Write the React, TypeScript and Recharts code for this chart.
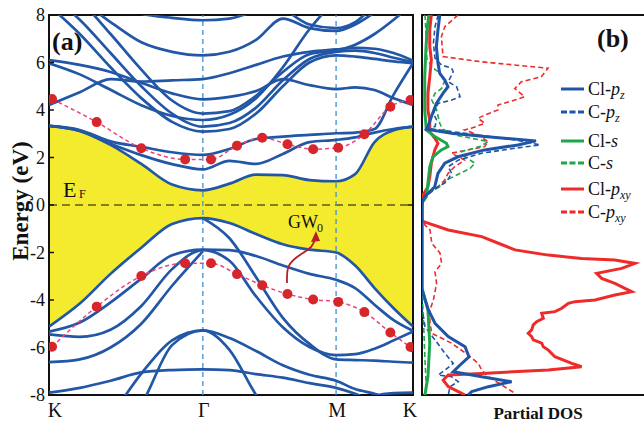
import React from 'react';
import { ComposedChart, Line, Area, XAxis, YAxis, ReferenceLine, ReferenceArea } from 'recharts';

const SERIF = '"Liberation Serif", "Times New Roman", "DejaVu Serif", serif';
const BAND = '#2256a6';
const YELLOW = '#f4eb2f';
const BLUE = '#1f55a6';
const GREEN = '#1fa64a';
const RED = '#ee2b2b';
const ARROW = '#b3202a';

// ---- k-path (K - Gamma - M - K) ----
const kPath = [0, 0.2, 0.4, 0.6, 0.8, 1.0, 1.173, 1.346, 1.52, 1.693, 1.866, 1.99, 2.116, 2.24, 2.366];
const kTicks = [0, 1, 1.866, 2.366];
const kLabels = ['K', 'Γ', 'M', 'K'];
const eTicks = [-8, -6, -4, -2, 0, 2, 4, 6, 8];

// ---- conduction bands (eV) ----
const cb1 = [3.33, 3.12, 2.53, 1.73, 0.86, 0.62, 0.9, 1.28, 1.26, 1.05, 1.0, 1.3, 2.65, 3.15, 3.3];
const cb2 = [3.33, 3.12, 2.58, 2.1, 1.72, 1.5, 1.86, 1.73, 2.15, 2.65, 2.74, 2.85, 3.05, 3.2, 3.3];
const cb3 = [3.33, 3.16, 2.68, 2.45, 2.22, 2.11, 2.36, 2.78, 2.88, 2.95, 3.02, 3.05, 3.2, 4.65, 5.97];
const cb4 = [8.4, 7.2, 5.8, 4.5, 3.5, 3.09, 3.2, 3.85, 5.0, 6.0, 6.3, 6.25, 6.15, 6.05, 5.97];
const cb5 = [8.9, 7.8, 6.4, 5.0, 3.85, 3.3, 3.45, 4.1, 5.25, 6.15, 6.45, 6.5, 6.4, 6.2, 6.02];
const cb6 = [5.97, 5.5, 4.85, 4.2, 3.75, 3.58, 3.8, 4.5, 5.8, 7.4, 8.6, 9.0, 9.3, 9.5, 9.6];
const cb7 = [6.1, 5.9, 5.6, 5.15, 4.7, 4.45, 4.55, 4.8, 5.3, 5.05, 4.88, 4.95, 4.84, 4.49, 4.21];
const cb8 = [4.21, 4.75, 5.3, 5.2, 5.25, 5.3, 5.55, 5.9, 6.25, 6.45, 6.55, 6.62, 6.58, 6.4, 6.08];
const cb9 = [9.0, 8.6, 7.7, 6.85, 6.45, 6.3, 6.45, 6.95, 7.85, 7.45, 7.33, 7.6, 8.1, 8.6, 9.0];
const cb10 = [9.5, 9.0, 8.5, 8.05, 7.88, 7.78, 7.85, 8.2, 8.7, 9.2, 9.5, 9.6, 9.6, 9.6, 9.6];
const cb11 = [9.4, 8.6, 7.2, 5.7, 4.4, 3.85, 3.95, 4.6, 5.6, 6.35, 6.5, 6.75, 7.2, 7.8, 8.5];
const cb12: (number | null)[] = [null, null, null, null, null, null, null, 9.0, 8.3, 7.6, 7.45, 7.7, 8.4, 9.0, 9.5];

// ---- valence bands (eV) ----
const vb1 = [-5.12, -4.15, -2.9, -1.8, -0.8, -0.55, -0.76, -1.22, -1.65, -1.88, -2.0, -2.55, -3.5, -4.35, -5.12];
const vb2 = [-5.33, -4.95, -4.1, -3.1, -2.12, -1.88, -1.9, -2.15, -2.55, -2.9, -3.15, -3.5, -4.2, -4.85, -5.3];
const vb3 = [-5.45, -5.55, -5.25, -4.25, -2.7, -1.9, -2.35, -3.85, -5.15, -5.98, -6.32, -6.28, -6.05, -5.7, -5.33];
const vb4: (number | null)[] = [null, null, null, null, null, -0.55, -1.4, -3.04, -4.75, -5.85, -6.5, -6.53, -6.55, -6.6, -6.64];
const vb5: (number | null)[] = [-6.62, -6.5, -6.0, -5.0, -3.4, -1.95, null, null, null, null, null, null, null, null, null];
const vb6 = [-10.5, -10.0, -8.85, -7.1, -5.7, -5.28, -5.6, -6.15, -6.75, -7.15, -7.4, -7.75, -7.95, -8.2, -8.4];
const vb7 = [-11.5, -11.0, -9.8, -8.4, -5.9, -5.28, -6.1, -8.0, -9.5, -10.0, -10.5, -10.5, -10.5, -10.5, -10.5];
const vb8 = [-7.9, -7.7, -7.4, -7.05, -6.95, -6.92, -6.95, -7.12, -7.27, -7.5, -7.7, -7.95, -8.3, -8.6, -8.7];
const vb9: (number | null)[] = [null, null, null, null, null, null, null, null, null, null, -9.0, -8.5, -8.05, -7.92, -7.9];

const bandList = [cb1, cb2, cb3, cb4, cb5, cb6, cb7, cb8, cb9, cb10, cb11, cb12, vb1, vb2, vb3, vb4, vb5, vb6, vb7, vb8, vb9];

// ---- GW0 band edges ----
const gwU = [0.02, 0.31, 0.6, 0.885, 1.053, 1.222, 1.386, 1.55, 1.717, 1.88, 2.05, 2.219, 2.35];
const gwCond = [4.46, 3.49, 2.39, 1.92, 1.92, 2.5, 2.83, 2.56, 2.35, 2.41, 2.98, 4.14, 4.42];
const gwVal = [-5.97, -4.28, -2.99, -2.45, -2.45, -2.91, -3.38, -3.75, -3.98, -4.08, -4.51, -5.37, -5.98];

// ---- annotation arrow (k, E) ----
const arrowU = [1.547, 1.554, 1.6, 1.66, 1.705, 1.729];
const arrowE = [-3.28, -2.65, -2.25, -1.98, -1.75, -1.47];

// ---- partial DOS: [energy, DOS] ----
const clPz: [number, number][] = [[8,0.78],[7.37,0.7],[6.67,0.63],[5.97,0.7],[5.54,0.78],[5.26,1.0],[4.98,1.14],[4.7,0.92],[4.28,0.63],[3.72,0.41],[3.3,0.26],[3.19,0.19],[3.02,1.29],[2.88,2.75],[2.7,5.0],[2.53,4.21],[2.32,2.75],[2.03,1.58],[1.76,1.0],[1.33,0.7],[0.77,0.56],[0.35,0.12],[0.21,0.04],[0,0],[-3.55,0],[-3.72,0.05],[-4.42,0.28],[-4.98,0.57],[-5.54,1.15],[-5.97,1.89],[-6.39,2.06],[-6.81,1.59],[-7.02,1.37],[-7.23,2.62],[-7.44,3.93],[-7.65,2.91],[-7.86,2.18],[-8,2.02]];
const cPz: [number, number][] = [[8,0.71],[7.51,0.57],[6.81,0.5],[6.18,0.57],[5.89,0.86],[5.76,1.3],[5.61,1.37],[5.19,1.15],[4.98,1.52],[4.56,1.67],[4.42,1.3],[4.28,0.71],[3.86,0.5],[3.58,0.64],[3.3,0.57],[3.23,0.21],[3.02,1.89],[2.74,4.08],[2.53,5.18],[2.39,4.08],[2.18,2.62],[1.89,1.59],[1.61,1.15],[1.33,1.3],[0.98,1.08],[0.77,0.71],[0.56,0.43],[0.35,0.13],[0.2,0],[-4.3,0],[-5.12,0.13],[-5.68,0.57],[-6.25,1.01],[-6.67,1.37],[-6.95,1.01],[-7.16,0.71],[-7.23,1.3],[-7.44,1.59],[-7.65,1.23],[-8,1.15]];
const clS: [number, number][] = [[8,0.3],[7.37,0.22],[6.53,0.17],[5.4,0.12],[4,0.12],[3.16,0.19],[2.88,0.56],[2.6,1.07],[2.46,1.14],[2.32,0.85],[2.03,0.48],[1.61,0.34],[0.91,0.26],[0.35,0.19],[0.21,0.09],[0.1,0],[-3.5,0],[-4.42,0.26],[-5.82,0.34],[-7.23,0.26],[-8,0.13]];
const cS: [number, number][] = [[8,0.13],[6.82,0.2],[6.18,0.21],[5.82,0.43],[5.61,0.71],[5.26,1.01],[4.91,0.86],[4.7,0.57],[4.42,0.43],[4.0,0.64],[3.44,0.78],[3.2,0.9],[2.95,1.43],[2.67,2.9],[2.46,2.54],[2.25,1.74],[2.03,1.89],[1.76,2.32],[1.54,2.11],[1.26,1.52],[1.05,1.08],[0.77,0.79],[0.56,0.35],[0.42,0.13],[0.3,0],[-3.5,0],[-5,0.07],[-6.5,0.13],[-7.5,0.18],[-8,0.13]];
const clPxy: [number, number][] = [[8,0.41],[7.37,0.34],[6.67,0.34],[6.11,0.41],[5.4,0.34],[4.7,0.26],[4,0.26],[3.58,0.34],[3.09,0.34],[2.81,0.56],[2.6,0.7],[2.32,0.56],[2.03,0.48],[1.76,0.41],[1.19,0.34],[0.77,0.26],[0.49,0.09],[0.35,0],[-0.6,0],[-0.7,0.06],[-1.05,1.15],[-1.33,2.62],[-1.61,3.35],[-1.89,4.08],[-2.11,5.54],[-2.25,7.0],[-2.32,8.46],[-2.46,9.34],[-2.67,8.76],[-2.88,7.66],[-3.09,7.88],[-3.3,8.46],[-3.51,8.9],[-3.65,9.2],[-3.79,8.46],[-4.0,7.59],[-4.07,6.71],[-4.14,6.42],[-4.35,6.13],[-4.49,5.83],[-4.56,5.25],[-4.77,5.32],[-4.91,5.03],[-5.05,4.88],[-5.26,4.81],[-5.4,4.66],[-5.54,4.81],[-5.68,4.88],[-5.82,5.25],[-5.97,5.32],[-6.11,5.54],[-6.39,5.83],[-6.67,6.57],[-6.81,7.0],[-6.95,5.54],[-7.09,2.62],[-7.16,1.15],[-7.37,0.93],[-7.65,1.15],[-7.86,1.59],[-8,1.89]];
const cPxy: [number, number][] = [[8,1.58],[7.51,1.0],[7.09,0.85],[6.25,0.92],[6.03,2.6],[5.76,5.53],[5.4,5.23],[5.19,4.36],[4.91,4.07],[4.56,4.5],[4.42,4.07],[4.21,3.33],[4.0,3.33],[3.79,2.75],[3.65,2.46],[3.44,2.75],[3.23,2.16],[3.16,1.87],[2.95,2.46],[2.67,2.89],[2.46,2.75],[2.18,1.29],[1.89,1.87],[1.61,1.43],[1.33,1.14],[1.05,1.0],[0.77,0.7],[0.49,0.26],[0.35,0.04],[0.25,0],[-0.6,0],[-0.84,0.13],[-1.05,0.35],[-1.61,0.43],[-2.03,0.79],[-2.46,0.86],[-2.81,0.57],[-3.3,0.64],[-4.0,0.5],[-4.42,0.35],[-4.98,0.35],[-5.4,0.43],[-5.82,1.3],[-6.32,2.03],[-6.67,2.47],[-6.95,2.62],[-7.23,2.91],[-7.58,3.5],[-7.93,4.08]];

const dosNames = ['Cl-', 'C-', 'Cl-', 'C-', 'Cl-', 'C-'];
const dosOrbitals = ['p', 'p', 's', 's', 'p', 'p'];
const dosSubs = ['z', 'z', '', '', 'xy', 'xy'];

// ---- derived tables ----
const bandRows = kPath.map((u, i) => {
  const row: Record<string, any> = { u, gap: [vb1[i], cb1[i]] };
  bandList.forEach((b, j) => {
    row['b' + j] = b[i];
  });
  return row;
});
const gwCondRows = gwU.map((u, i) => ({ u, e: gwCond[i] }));
const gwValRows = gwU.map((u, i) => ({ u, e: gwVal[i] }));
const arrowRows = arrowU.map((u, i) => ({ u, e: arrowE[i] }));
const toRows = (arr: [number, number][]) => arr.map(([e, d]) => ({ e, d }));

const dosSeries = [
  { data: cPxy, color: RED, dashed: true },
  { data: cS, color: GREEN, dashed: true },
  { data: cPz, color: BLUE, dashed: true },
  { data: clPxy, color: RED, dashed: false },
  { data: clS, color: GREEN, dashed: false },
  { data: clPz, color: BLUE, dashed: false },
];
const legendStyle = [
  { color: BLUE, dashed: false, y: 89 },
  { color: BLUE, dashed: true, y: 112 },
  { color: GREEN, dashed: false, y: 141 },
  { color: GREEN, dashed: true, y: 163 },
  { color: RED, dashed: false, y: 189 },
  { color: RED, dashed: true, y: 212 },
];

const XTick = (props: any) => {
  const { x, y, payload } = props;
  const idx = kTicks.indexOf(payload.value);
  const shift = idx === 0 ? 6 : idx === 3 ? -3 : 1;
  return (
    <text x={x + shift} y={y} dy="0.71em" textAnchor="middle" fontSize={20} fontFamily={SERIF} fill="#111">
      {kLabels[idx]}
    </text>
  );
};

const ArrowHead = (p: any) => {
  if (p.index !== arrowU.length - 1) return <g key={'ah' + p.index} />;
  const { cx, cy } = p;
  return (
    <polygon
      key={'ah' + p.index}
      points={`${cx + 1},${cy - 9} ${cx - 4},${cy + 2} ${cx + 5},${cy + 1}`}
      fill={ARROW}
    />
  );
};

export default function App() {
  return (
    <div style={{ position: 'absolute', left: 0, top: 0, width: 644, height: 424, overflow: 'hidden', background: '#fff' }}>
      <div style={{ position: 'absolute', left: 0, top: 0 }}>
        <ComposedChart width={420} height={424} data={bandRows} margin={{ top: 15, right: 7, bottom: 0, left: 0 }}>
          <XAxis
            dataKey="u"
            type="number"
            domain={[0, 2.366]}
            ticks={kTicks}
            allowDataOverflow
            axisLine={false}
            tickLine={false}
            tickSize={6}
            tickMargin={2}
            height={29}
            interval={0}
            tick={(p: any) => <XTick {...p} />}
          />
          <YAxis
            type="number"
            domain={[-8, 8]}
            ticks={eTicks}
            allowDataOverflow
            axisLine={false}
            tickLine={false}
            tickSize={4}
            tickMargin={0}
            width={49}
            interval={0}
            tick={{ fontSize: 18, fill: '#111', fontFamily: SERIF }}
          />
          <Area dataKey="gap" type="monotone" fill={YELLOW} fillOpacity={1} stroke="none" isAnimationActive={false} />
          <ReferenceLine y={0} stroke="#111" strokeDasharray="8 5" strokeWidth={1.2} />
          <ReferenceLine x={1} stroke="#3f8fd2" strokeDasharray="5 4" strokeWidth={1.3} />
          <ReferenceLine x={1.866} stroke="#3f8fd2" strokeDasharray="5 4" strokeWidth={1.3} />
          {bandList.map((b, j) => (
            <Line
              key={'band' + j}
              dataKey={'b' + j}
              type="monotone"
              stroke={BAND}
              strokeWidth={2.7}
              dot={false}
              activeDot={false}
              connectNulls={false}
              isAnimationActive={false}
            />
          ))}
          <Line
            data={gwCondRows}
            dataKey="e"
            type="monotone"
            stroke="#e9457e"
            strokeWidth={1.5}
            strokeDasharray="4 3"
            dot={{ r: 5, fill: '#d7262b', stroke: 'none', strokeWidth: 0, strokeDasharray: '' }}
            activeDot={false}
            isAnimationActive={false}
          />
          <Line
            data={gwValRows}
            dataKey="e"
            type="monotone"
            stroke="#e9457e"
            strokeWidth={1.5}
            strokeDasharray="4 3"
            dot={{ r: 5, fill: '#d7262b', stroke: 'none', strokeWidth: 0, strokeDasharray: '' }}
            activeDot={false}
            isAnimationActive={false}
          />
          <Line
            data={arrowRows}
            dataKey="e"
            type="natural"
            stroke={ARROW}
            strokeWidth={1.8}
            dot={(p: any) => <ArrowHead {...p} />}
            activeDot={false}
            isAnimationActive={false}
          />
          {eTicks.filter((v) => v !== 8 && v !== -8).map((v) => (
            <ReferenceLine key={'tk' + v} segment={[{ x: 0, y: v }, { x: 0.032, y: v }]} stroke="#111" strokeWidth={1.5} />
          ))}
          <ReferenceLine segment={[{ x: 2.334, y: 0 }, { x: 2.366, y: 0 }]} stroke="#111" strokeWidth={1.5} />
          <ReferenceArea x1={0} x2={2.366} y1={-8} y2={8} fill="none" fillOpacity={0} stroke="#111" strokeWidth={2} />
        </ComposedChart>
      </div>
      <div style={{ position: 'absolute', left: 400, top: 0 }}>
        <ComposedChart width={250} height={424} margin={{ top: 15, right: 0, bottom: 29, left: 22 }}>
          <XAxis type="number" dataKey="d" domain={[0, 10]} hide allowDataOverflow />
          <YAxis type="number" domain={[-8, 8]} hide allowDataOverflow />
          {dosSeries.map((s, i) => (
            <Line
              key={'dos' + i}
              data={toRows(s.data)}
              dataKey="e"
              type="linear"
              stroke={s.color}
              strokeWidth={s.dashed ? 1.6 : 3}
              strokeDasharray={s.dashed ? '5 3' : undefined}
              dot={false}
              activeDot={false}
              isAnimationActive={false}
            />
          ))}
          <ReferenceArea x1={0} x2={10} y1={-8} y2={8} fill="none" fillOpacity={0} stroke="#111" strokeWidth={2} />
        </ComposedChart>
      </div>
      <svg width={644} height={424} style={{ position: 'absolute', left: 0, top: 0, pointerEvents: 'none' }}>
        <g fontFamily={SERIF} fill="#111">
          <text x={52} y={50} fontSize={26} fontWeight="bold">(a)</text>
          <text x={597} y={47} fontSize={26} fontWeight="bold">(b)</text>
          <text x={63} y={197} fontSize={22}>E</text>
          <text x={79} y={198} fontSize={12}>F</text>
          <text x={288} y={228} fontSize={18}>GW</text>
          <text x={317} y={232} fontSize={12}>0</text>
          <text x={28} y={201} fontSize={23} fontWeight="bold" textAnchor="middle" transform="rotate(-90 28 201)">Energy (eV)</text>
          <text x={538} y={419} fontSize={17} fontWeight="bold" textAnchor="middle">Partial DOS</text>
          {legendStyle.map((l, i) => (
            <g key={'lg' + i}>
              <line x1={561} x2={584} y1={l.y} y2={l.y} stroke={l.color} strokeWidth={3} strokeDasharray={l.dashed ? '6 2.5' : undefined} />
              <text x={588} y={l.y + 6} fontSize={18}>
                {dosNames[i]}
                <tspan fontStyle="italic">{dosOrbitals[i]}</tspan>
                {dosSubs[i] ? (
                  <tspan fontStyle="italic" fontSize={12} dy={4}>{dosSubs[i]}</tspan>
                ) : null}
              </text>
            </g>
          ))}
        </g>
      </svg>
    </div>
  );
}
